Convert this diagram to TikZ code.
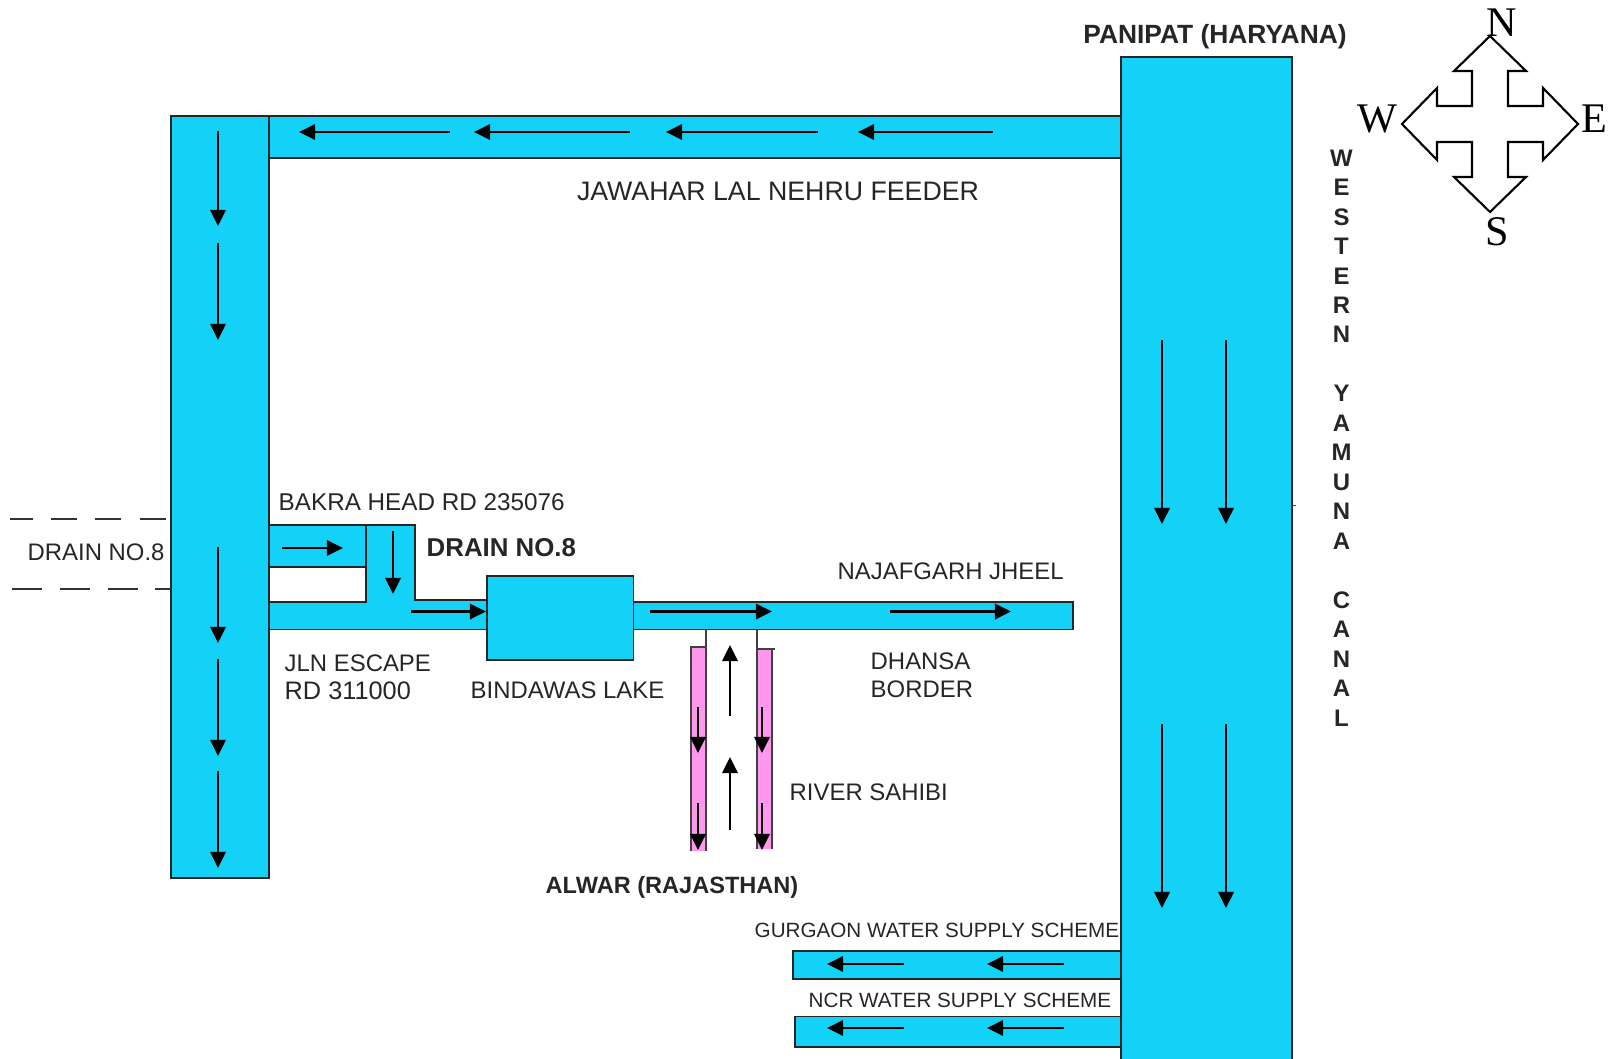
\documentclass[tikz,border=0pt]{standalone}
\usepackage{fontspec}
\setmainfont{Liberation Sans}
\newfontfamily\compassfont{Liberation Serif}
\usetikzlibrary{arrows.meta}
\definecolor{canalblue}{RGB}{20,209,247}
\definecolor{riverpink}{RGB}{253,152,236}
\tikzset{
  canal/.style={draw=black!85, fill=canalblue, line width=.5pt},
  riverside/.style={draw=black!75, line width=.5pt},
  flowline/.style={-{Triangle[length=4.6pt,width=4.4pt]}, black, line width=.7pt},
  dashline/.style={black!80, line width=.5pt},
  maplabel/.style={anchor=west, inner sep=0pt, text=black!85, font=\fontsize{6.8}{7.6}\selectfont},
  boldlabel/.style={maplabel, font=\fontsize{6.7}{7.6}\selectfont\bfseries},
  compassletter/.style={inner sep=0pt, font=\compassfont\fontsize{12}{13}\selectfont}
}
\newcommand{\flowarrow}[2]{\draw[flowline] #1 -- #2;}
\begin{document}
\begin{tikzpicture}[x=.01cm,y=-.01cm]
  \useasboundingbox (0,0) rectangle (1610,1058);

  % feeder and main canals
  \draw[canal] (269,116) rectangle (1121,158);
  \draw[canal] (269,525) rectangle (366,567);
  \draw[canal] (366,525) -- (415,525) -- (415,600) -- (487,600) -- (487,629.5)
    -- (269,629.5) -- (269,602) -- (366,602) -- cycle;
  \draw[canal] (633,602) rectangle (1073,629.5);
  \draw[canal] (487,576) rectangle (633.5,660);
  \draw[canal] (171,116) rectangle (269,878);
  \draw[canal] (793,951) rectangle (1121,979);
  \draw[canal] (795,1016.5) rectangle (1121,1047);
  \draw[canal] (1121,57) rectangle (1292,1064);
  \draw[riverside] (1292,505.5) -- (1296,505.5);

  % river sahibi
  \fill[riverpink] (691,647) rectangle (706,851);
  \fill[riverpink] (757,649) rectangle (772,849);
  \draw[riverside] (691,851) -- (691,647) -- (706,647);
  \draw[riverside] (706,629.5) -- (706,851);
  \draw[riverside] (757,629.5) -- (757,849);
  \draw[riverside] (757,649) -- (775,649);
  \draw[riverside] (772,649) -- (772,849);

  % drain no.8 outside the canal
  \draw[dashline,dash pattern=on 7.4pt off 5.2pt,dash phase=.9pt] (10,519) -- (171,519);
  \draw[dashline,dash pattern=on 8.6pt off 5pt] (12,589) -- (171,589);

  \flowarrow{(450,132)}{(299,132)}
  \flowarrow{(630,132)}{(474,132)}
  \flowarrow{(818,132)}{(666,132)}
  \flowarrow{(993,132)}{(858,132)}

  \flowarrow{(218,131)}{(218,226)}
  \flowarrow{(218,243)}{(218,340)}
  \flowarrow{(218,547)}{(218,643)}
  \flowarrow{(218,659)}{(218,756)}
  \flowarrow{(218,771)}{(218,868)}

  \flowarrow{(1162,340)}{(1162,524)}
  \flowarrow{(1226,340)}{(1226,524)}
  \flowarrow{(1162,724)}{(1162,908)}
  \flowarrow{(1226,724)}{(1226,908)}

  \flowarrow{(282,548)}{(343,548)}
  \flowarrow{(393,531)}{(393,594)}
  \flowarrow{(411,611.5)}{(486,611.5)}
  \flowarrow{(650,611.5)}{(772,611.5)}
  \flowarrow{(890,611.5)}{(1011,611.5)}

  \flowarrow{(730,716)}{(730,645)}
  \flowarrow{(730,830)}{(730,757)}
  \flowarrow{(698,707)}{(698,753)}
  \flowarrow{(762,707)}{(762,753)}
  \flowarrow{(698,803)}{(698,850)}
  \flowarrow{(762,803)}{(762,850)}

  \flowarrow{(904,964)}{(827,964)}
  \flowarrow{(1064,964)}{(987,964)}
  \flowarrow{(904,1028)}{(827,1028)}
  \flowarrow{(1064,1028)}{(987,1028)}

  % labels
  \node[boldlabel,anchor=center,font=\fontsize{7.5}{8}\selectfont\bfseries] (panipat) at (1215,37) {PANIPAT (HARYANA)};
  \node[maplabel,anchor=center,font=\fontsize{7.6}{8}\selectfont] (feeder) at (778,191) {JAWAHAR LAL NEHRU FEEDER};
  \node[boldlabel,anchor=north,align=center,font=\fontsize{6.8}{8.38}\selectfont\bfseries] (western) at (1341.5,149)
    {W\\E\\S\\T\\E\\R\\N\\~\\Y\\A\\M\\U\\N\\A\\~\\C\\A\\N\\A\\L};
  \node[maplabel] (drainleft) at (27,552) {DRAIN NO.8};
  \node[maplabel,font=\fontsize{6.9}{7.6}\selectfont] (bakra) at (278,502) {BAKRA HEAD RD 235076};
  \node[boldlabel,font=\fontsize{7.35}{8}\selectfont\bfseries] (drainmid) at (426,548) {DRAIN NO.8};
  \node[maplabel] (najafgarh) at (837,571) {NAJAFGARH JHEEL};
  \node[maplabel] (escape) at (284,663) {JLN ESCAPE};
  \node[maplabel,font=\fontsize{7.2}{7.6}\selectfont] (escaperd) at (284,691) {RD 311000};
  \node[maplabel] (bindawas) at (470,690) {BINDAWAS LAKE};
  \node[maplabel] (dhansa) at (870,661) {DHANSA};
  \node[maplabel] (border) at (870,689) {BORDER};
  \node[maplabel] (sahibi) at (789,792) {RIVER SAHIBI};
  \node[boldlabel] (alwar) at (545,887) {ALWAR (RAJASTHAN)};
  \node[maplabel,font=\fontsize{5.87}{7}\selectfont] (gurgaon) at (754,930) {GURGAON WATER SUPPLY SCHEME};
  \node[maplabel,font=\fontsize{5.87}{7}\selectfont] (ncr) at (808,1000) {NCR WATER SUPPLY SCHEME};

  % compass
  \draw[black,line width=.6pt] (1472,106) -- (1472,71) -- (1454,71) -- (1490,36) -- (1526,71) -- (1508,71) -- (1508,106)
    -- (1543,106) -- (1543,88) -- (1578,124) -- (1543,160) -- (1543,142) -- (1508,142)
    -- (1508,177) -- (1526,177) -- (1490,212) -- (1454,177) -- (1472,177) -- (1472,142)
    -- (1437,142) -- (1437,160) -- (1402,124) -- (1437,88) -- (1437,106) -- cycle;
  \node[compassletter] (north) at (1502,23) {N};
  \node[compassletter] (south) at (1497,232) {S};
  \node[compassletter] (west) at (1377,119) {W};
  \node[compassletter] (east) at (1594,119) {E};
\end{tikzpicture}
\end{document}
